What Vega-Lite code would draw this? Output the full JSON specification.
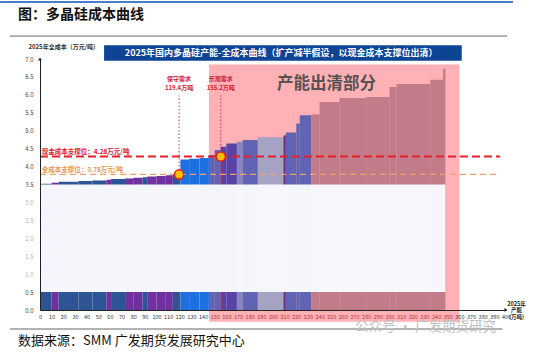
{
  "$schema": "https://vega.github.io/schema/vega-lite/v6.json",
  "width": 466,
  "height": 251,
  "autosize": {"type": "none"},
  "padding": {"left": 40, "top": 59, "right": 44, "bottom": 45},
  "background": "white",
  "config": {
    "view": {"stroke": null},
    "font": "Noto Sans CJK SC",
    "text": {"font": "Noto Sans CJK SC"}
  },
  "data": {"values": [{}]},
  "datasets": {
    "bars": [
      {"start": 0, "end": 10, "cost": 3.52, "group": "darkblue"},
      {"start": 10, "end": 16, "cost": 3.55, "group": "purple"},
      {"start": 16, "end": 33, "cost": 3.58, "group": "darkblue"},
      {"start": 33, "end": 45, "cost": 3.6, "group": "darkblue"},
      {"start": 45, "end": 57, "cost": 3.61, "group": "darkblue"},
      {"start": 57, "end": 61, "cost": 3.63, "group": "purple"},
      {"start": 61, "end": 73, "cost": 3.65, "group": "darkblue"},
      {"start": 73, "end": 80, "cost": 3.67, "group": "purple"},
      {"start": 80, "end": 88, "cost": 3.69, "group": "purple"},
      {"start": 88, "end": 92, "cost": 3.7, "group": "darkblue"},
      {"start": 92, "end": 100, "cost": 3.72, "group": "purple"},
      {"start": 100, "end": 108, "cost": 3.74, "group": "purple"},
      {"start": 108, "end": 114, "cost": 3.76, "group": "purple"},
      {"start": 114, "end": 120.5, "cost": 3.78, "group": "darkblue"},
      {"start": 120.5, "end": 128, "cost": 4.2, "group": "brightblue"},
      {"start": 128, "end": 137, "cost": 4.22, "group": "brightblue"},
      {"start": 137, "end": 145, "cost": 4.24, "group": "brightblue"},
      {"start": 145, "end": 150, "cost": 4.32, "group": "medblue"},
      {"start": 150, "end": 155, "cost": 4.46, "group": "medblue"},
      {"start": 155, "end": 160, "cost": 4.55, "group": "darkpurple"},
      {"start": 160, "end": 169, "cost": 4.64, "group": "darkpurple"},
      {"start": 169, "end": 174, "cost": 4.69, "group": "lavender"},
      {"start": 174, "end": 187, "cost": 4.74, "group": "medblue"},
      {"start": 187, "end": 209, "cost": 4.82, "group": "grey"},
      {"start": 209, "end": 211, "cost": 4.87, "group": "magenta"},
      {"start": 211, "end": 220, "cost": 4.95, "group": "medblue"},
      {"start": 220, "end": 223, "cost": 5.2, "group": "medblue"},
      {"start": 223, "end": 233, "cost": 5.43, "group": "medblue"},
      {"start": 233, "end": 240, "cost": 5.45, "group": "mauve"},
      {"start": 240, "end": 257, "cost": 5.8, "group": "mauve"},
      {"start": 257, "end": 280, "cost": 5.91, "group": "mauve"},
      {"start": 280, "end": 300, "cost": 5.94, "group": "mauve"},
      {"start": 300, "end": 306, "cost": 6.22, "group": "mauve"},
      {"start": 306, "end": 335, "cost": 6.3, "group": "mauve"},
      {"start": 335, "end": 346, "cost": 6.42, "group": "mauve"},
      {"start": 346, "end": 348, "cost": 6.73, "group": "mauve"}
    ],
    "demand": [
      {"demand": 119.4, "cost": 3.78, "name": "保守需求", "amount": "119.4万吨"},
      {"demand": 155.2, "cost": 4.28, "name": "乐观需求", "amount": "155.2万吨"}
    ]
  },
  "layer": [
    {
      "mark": {"type": "rect", "fill": "#ffb1b6"},
      "encoding": {
        "x": {
          "datum": 145, "type": "quantitative",
          "scale": {"domain": [0, 400], "nice": false},
          "axis": {
            "tickCount": 40,
            "grid": false, "ticks": false, "labelPadding": 4, "labelFontSize": 5.5,
            "labelColor": {"condition": {"test": "datum.value >= 150 && datum.value <= 350", "value": "#b8303c"}, "value": "#333"},
            "domainColor": "#222", "domainWidth": 1,
            "labelFlush": false, "labelOverlap": false, "zindex": 1,
            "title": ["2025年", "产能", "(万吨)"],
            "titleFontSize": 5.5, "titleFontWeight": "bold",
            "titleColor": "#222", "titleX": 476, "titleY": -9, "titleAlign": "center",
            "titleBaseline": "top", "titleLineHeight": 6.8, "titleAngle": 0
          }
        },
        "x2": {"datum": 360},
        "y": {
          "datum": 6.85, "type": "quantitative",
          "scale": {"domain": [0, 7], "nice": false},
          "axis": {
            "tickCount": 14,
            "format": ".1f", "grid": false, "ticks": false, "labelPadding": 7,
            "labelFontSize": 6,
            "labelColor": {"condition": {"test": "datum.value > 0.7 && datum.value < 3.2", "value": "#b4b4b8"}, "value": "#444"},
            "domainColor": "#222", "domainWidth": 1,
            "labelOverlap": false, "labelFlush": false, "zindex": 1,
            "title": "2025年全成本（万元/吨）", "titleAngle": 0,
            "titleFontSize": 6, "titleFontWeight": "bold", "titleColor": "#333",
            "titleX": -12, "titleY": -13, "titleAlign": "left", "titleBaseline": "middle"
          }
        },
        "y2": {"datum": -0.33}
      }
    },
    {
      "data": {"name": "bars"},
      "mark": {"type": "rect"},
      "encoding": {
        "x": {"field": "start", "type": "quantitative", "title": ["2025年", "产能", "(万吨)"]},
        "x2": {"field": "end"},
        "y": {"field": "cost", "type": "quantitative", "title": "2025年全成本（万元/吨）"},
        "y2": {"datum": 0},
        "color": {
          "field": "group", "type": "nominal", "legend": null,
          "scale": {
            "domain": ["darkblue", "purple", "brightblue", "medblue", "darkpurple", "lavender", "grey", "magenta", "mauve"],
            "range": ["#2d5596", "#7030a0", "#1e6fe0", "#6164b3", "#5744a6", "#8387c4", "#a5a3c4", "#6d2e78", "#c27b88"]
          }
        }
      }
    },
    {
      "data": {"name": "demand"},
      "mark": {"type": "rule", "color": "#d0304a", "strokeWidth": 1, "strokeDash": [1.5, 2]},
      "encoding": {
        "x": {"field": "demand", "type": "quantitative", "title": ["2025年", "产能", "(万吨)"]},
        "y": {"datum": 0},
        "y2": {"datum": 5.98}
      }
    },
    {
      "mark": {"type": "rect", "fill": "#f7f8fc", "opacity": 0.99},
      "encoding": {
        "x": {"datum": 0.001, "type": "quantitative"},
        "x2": {"datum": 348},
        "y": {"datum": 3.5, "type": "quantitative"},
        "y2": {"datum": 0.5}
      }
    },
    {
      "mark": {"type": "rule", "color": "#f0a070", "strokeWidth": 1.2, "strokeDash": [6, 4]},
      "encoding": {
        "x": {"datum": 0.001, "type": "quantitative"},
        "x2": {"datum": 395},
        "y": {"datum": 3.78, "type": "quantitative"}
      }
    },
    {
      "mark": {"type": "rule", "color": "#e5202a", "strokeWidth": 2, "strokeDash": [8, 4]},
      "encoding": {
        "x": {"datum": 0.001, "type": "quantitative"},
        "x2": {"datum": 395},
        "y": {"datum": 4.28, "type": "quantitative"}
      }
    },
    {
      "data": {"name": "demand"},
      "mark": {"type": "point", "filled": true, "fill": "#ffc000", "stroke": "#e02020", "strokeWidth": 1.5, "size": 85, "opacity": 1},
      "encoding": {
        "x": {"field": "demand", "type": "quantitative", "title": ["2025年", "产能", "(万吨)"]},
        "y": {"field": "cost", "type": "quantitative", "title": "2025年全成本（万元/吨）"}
      }
    },
    {
      "data": {"name": "demand"},
      "mark": {"type": "text", "color": "#d02030", "fontSize": 6, "fontWeight": "bold", "align": "center", "baseline": "middle"},
      "encoding": {
        "x": {"field": "demand", "type": "quantitative", "title": ["2025年", "产能", "(万吨)"]},
        "y": {"datum": 6.43, "type": "quantitative"},
        "text": {"field": "name"}
      }
    },
    {
      "data": {"name": "demand"},
      "mark": {"type": "text", "color": "#d02030", "fontSize": 6, "fontWeight": "bold", "align": "center", "baseline": "middle"},
      "encoding": {
        "x": {"field": "demand", "type": "quantitative", "title": ["2025年", "产能", "(万吨)"]},
        "y": {"datum": 6.2, "type": "quantitative"},
        "text": {"field": "amount"}
      }
    },
    {
      "mark": {"type": "text", "color": "#e02030", "fontSize": 6.5, "fontWeight": "bold", "align": "left", "baseline": "bottom", "dy": -2},
      "encoding": {
        "x": {"datum": 1.5, "type": "quantitative"},
        "y": {"datum": 4.28, "type": "quantitative"},
        "text": {"value": "现金成本支撑位：4.28万元/吨"}
      }
    },
    {
      "mark": {"type": "text", "color": "#e8954a", "fontSize": 6.5, "fontWeight": "bold", "align": "left", "baseline": "bottom", "dy": -1.5},
      "encoding": {
        "x": {"datum": 1.5, "type": "quantitative"},
        "y": {"datum": 3.78, "type": "quantitative"},
        "text": {"value": "全成本支撑位：3.78万元/吨"}
      }
    },
    {
      "mark": {"type": "text", "color": "#585252", "fontSize": 16.5, "fontWeight": "bold", "align": "center", "baseline": "middle"},
      "encoding": {
        "x": {"datum": 246, "type": "quantitative"},
        "y": {"datum": 6.3, "type": "quantitative"},
        "text": {"value": "产能出清部分"}
      }
    },
    {
      "mark": {"type": "rect", "fill": "#0d4594"},
      "encoding": {
        "x": {"datum": 55, "type": "quantitative"},
        "x2": {"datum": 362},
        "y": {"datum": 6.95, "type": "quantitative"},
        "y2": {"datum": 7.38}
      }
    },
    {
      "mark": {"type": "text", "color": "white", "fontSize": 9, "fontWeight": "bold", "align": "center", "baseline": "middle"},
      "encoding": {
        "x": {"datum": 207, "type": "quantitative"},
        "y": {"datum": 7.16, "type": "quantitative"},
        "text": {"value": "2025年国内多晶硅产能-全成本曲线（扩产减半假设，以现金成本支撑位出清）"}
      }
    },
    {
      "mark": {"type": "point", "shape": "triangle-right", "filled": true, "color": "#222", "size": 14, "opacity": 1},
      "encoding": {
        "x": {"datum": 400, "type": "quantitative"},
        "y": {"datum": 0.001, "type": "quantitative"}
      }
    },
    {
      "mark": {"type": "point", "shape": "triangle-up", "filled": true, "color": "#222", "size": 14, "opacity": 1},
      "encoding": {
        "x": {"datum": 0.001, "type": "quantitative"},
        "y": {"datum": 7.0, "type": "quantitative"}
      }
    },
    {
      "mark": {"type": "rule", "color": "#4a7cc9", "strokeWidth": 2},
      "encoding": {
        "x": {"datum": -34.3, "type": "quantitative"},
        "x2": {"datum": 406},
        "y": {"datum": 8.59, "type": "quantitative"}
      }
    },
    {
      "mark": {"type": "rule", "color": "#666", "strokeWidth": 1},
      "encoding": {
        "x": {"datum": -25.7, "type": "quantitative"},
        "x2": {"datum": 401},
        "y": {"datum": 7.64, "type": "quantitative"}
      }
    },
    {
      "mark": {"type": "rule", "color": "#666", "strokeWidth": 1},
      "encoding": {
        "x": {"datum": -25.7, "type": "quantitative"},
        "x2": {"datum": 397},
        "y": {"datum": -0.53, "type": "quantitative"}
      }
    },
    {
      "mark": {"type": "text", "color": "#111", "fontSize": 14, "fontWeight": "bold", "align": "left", "baseline": "middle"},
      "encoding": {
        "x": {"datum": -18.9, "type": "quantitative"},
        "y": {"datum": 8.23, "type": "quantitative"},
        "text": {"value": "图：多晶硅成本曲线"}
      }
    },
    {
      "mark": {"type": "text", "color": "#111", "fontSize": 13, "align": "left", "baseline": "middle"},
      "encoding": {
        "x": {"datum": -18.9, "type": "quantitative"},
        "y": {"datum": -0.87, "type": "quantitative"},
        "text": {"value": "数据来源：SMM  广发期货发展研究中心"}
      }
    },
    {
      "mark": {"type": "text", "color": "#c0c0c0", "fontSize": 13.5, "align": "left", "baseline": "middle"},
      "encoding": {
        "x": {"datum": 270.4, "type": "quantitative"},
        "y": {"datum": -0.48, "type": "quantitative"},
        "text": {"value": "公众号 · 广发期货研究"}
      }
    }
  ]
}
